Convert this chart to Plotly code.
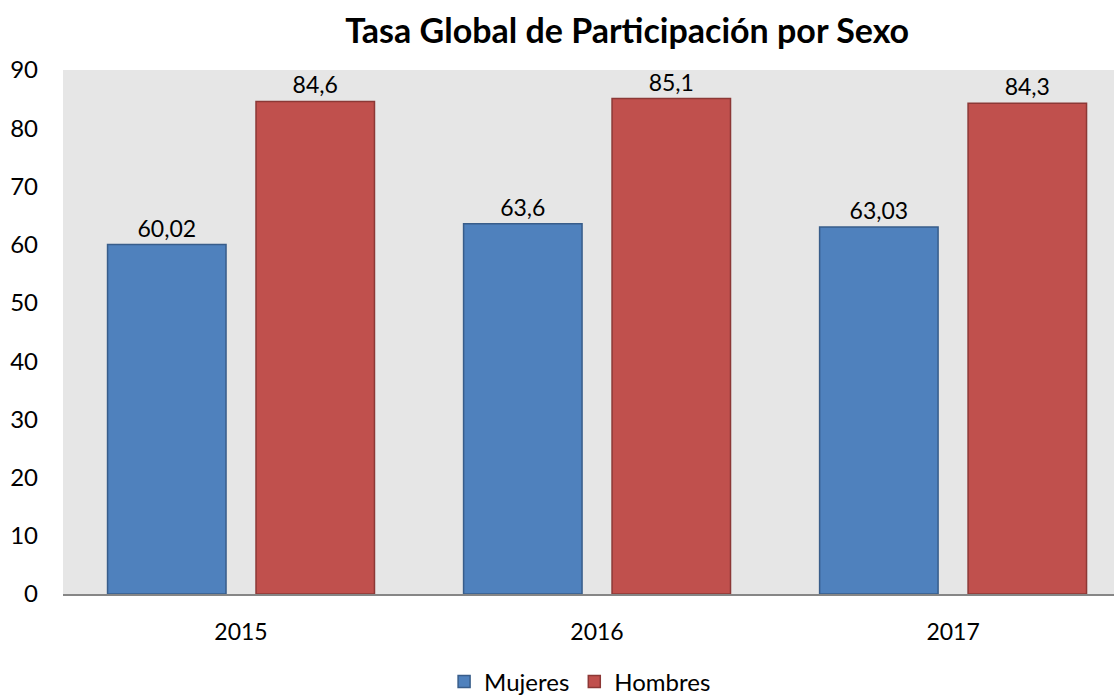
import plotly.graph_objects as go

years = ["2015", "2016", "2017"]
mujeres = [60.02, 63.6, 63.03]
hombres = [84.6, 85.1, 84.3]
mujeres_labels = ["60,02", "63,6", "63,03"]
hombres_labels = ["84,6", "85,1", "84,3"]
title = "Tasa Global de Participación por Sexo"

FONT = "Lato"

fig = go.Figure()
fig.add_trace(go.Bar(
    name="Mujeres", x=years, y=mujeres, text=mujeres_labels,
    textposition="outside", cliponaxis=False,
    textfont=dict(family=FONT, size=23, color="#000000"),
    marker=dict(color="#4f81bd", line=dict(color="#385d8a", width=1.5)),
))
fig.add_trace(go.Bar(
    name="Hombres", x=years, y=hombres, text=hombres_labels,
    textposition="outside", cliponaxis=False,
    textfont=dict(family=FONT, size=23, color="#000000"),
    marker=dict(color="#c0504d", line=dict(color="#8c3836", width=1.5)),
))

fig.update_layout(
    width=1114, height=695,
    margin=dict(l=63, r=0, t=70, b=101, autoexpand=False),
    paper_bgcolor="white", plot_bgcolor="#e6e6e6",
    barmode="group", bargap=0.166, bargroupgap=0.202,
    title=dict(text="<b>" + title + "</b>", x=0.563, xanchor="center",
               y=0.955, yanchor="middle",
               font=dict(family=FONT, size=34, color="#000000")),
    font=dict(family=FONT, size=22, color="#000000"),
    showlegend=True,
    legend=dict(orientation="h", x=0.492, xanchor="center", y=-0.125, yanchor="top",
                font=dict(family=FONT, size=24), traceorder="normal"),
    uniformtext=dict(mode=False),
)
fig.update_yaxes(range=[0, 90], dtick=10, showgrid=False, zeroline=False,
                 showline=False, ticks="", ticklabelstandoff=24, automargin=False,
                 tickfont=dict(family=FONT, size=24))
fig.update_xaxes(range=[-0.5, 2.452], showgrid=False, showline=True,
                 linecolor="#868686", linewidth=2,
                 ticks="", ticklabelstandoff=16, automargin=False,
                 tickfont=dict(family=FONT, size=23))

fig.write_html("out.html", config={"displayModeBar": False},
               post_script="document.body.style.margin='0';")
